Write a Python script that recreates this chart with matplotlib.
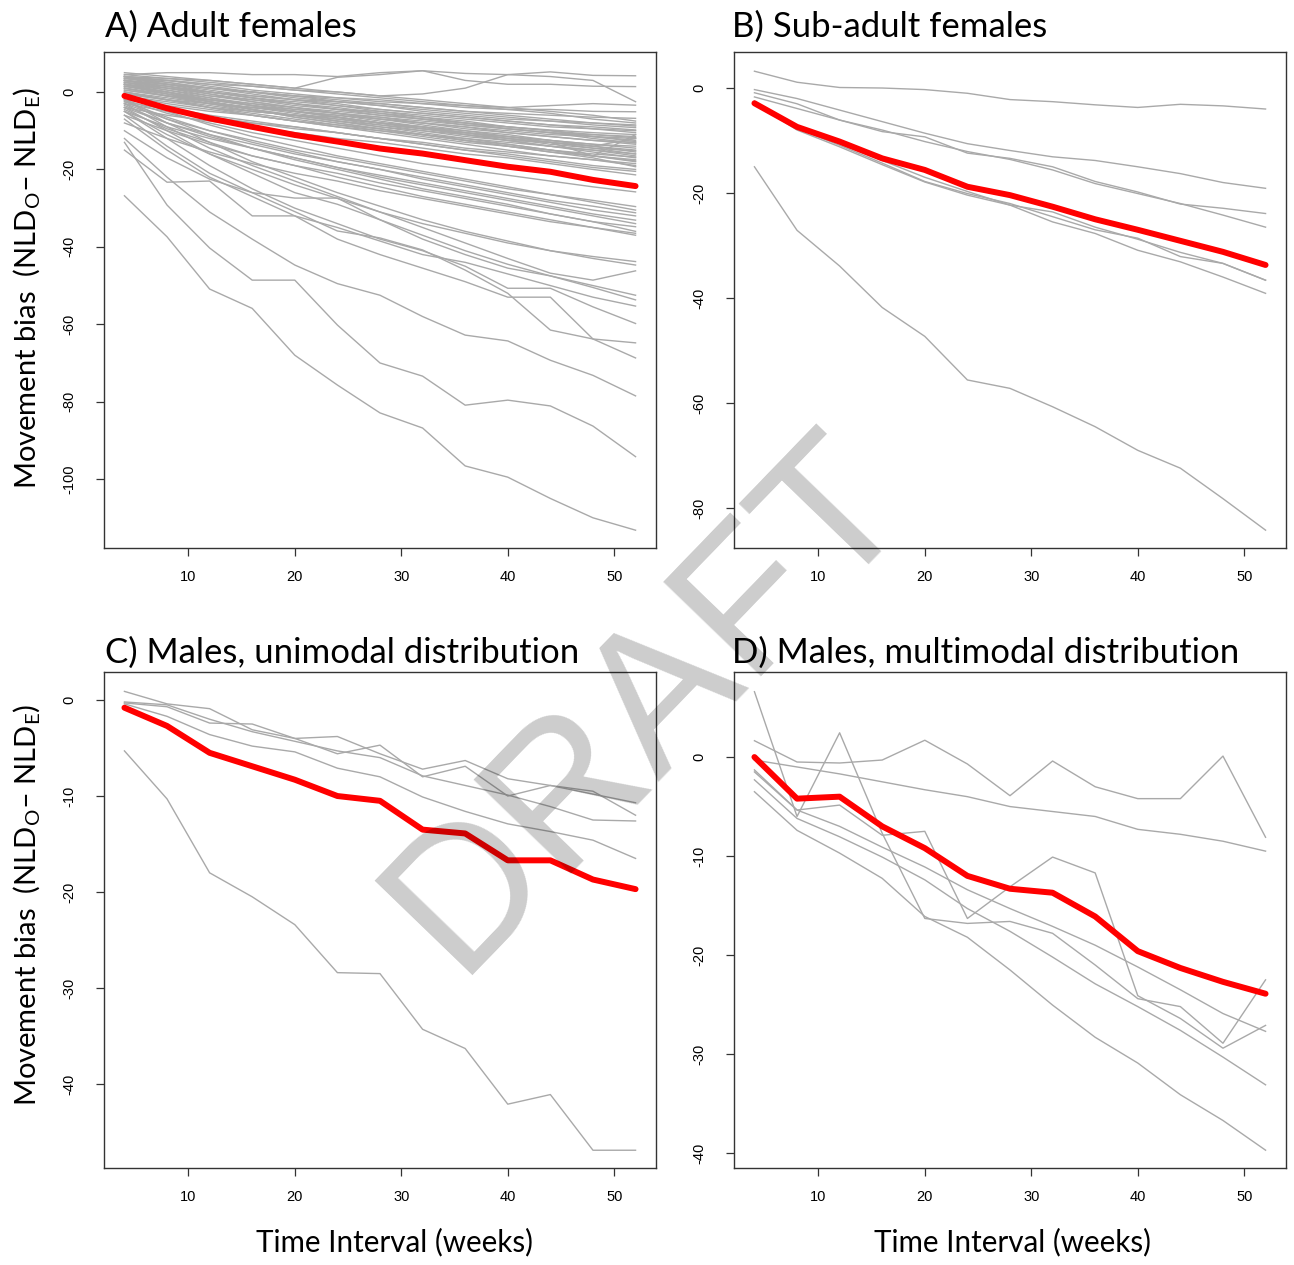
import matplotlib.pyplot as plt

plt.rcParams['font.family'] = ['Lato', 'DejaVu Sans']
plt.rcParams['mathtext.fontset'] = 'custom'
plt.rcParams['mathtext.rm'] = 'Lato'
plt.rcParams['axes.unicode_minus'] = False

weeks = [4, 8, 12, 16, 20, 24, 28, 32, 36, 40, 44, 48, 52]

# A) adult females: individual bias curves and the mean
adult_f_mean = [-1.0, -4.2, -6.8, -9.0, -11.1, -12.8, -14.6, -15.9, -17.6, -19.3, -20.6, -22.7, -24.3]
adult_f_top = [
    [4.5, 5.0, 5.0, 4.5, 4.5, 4.0, 5.0, 5.5, 4.8, 4.5, 5.2, 4.3, 4.2],
    [4.0, 3.5, 3.0, 2.0, 1.0, 3.8, 4.5, 5.5, 3.0, 2.0, 2.0, 1.5, 1.4],
    [3.5, 3.0, 2.0, 1.5, 0.5, 0.0, -1.0, -0.5, 1.0, 4.5, 4.0, 3.0, -2.5],
    [3.0, 2.0, 1.0, 0.0, -1.0, -1.5, -2.0, -3.0, -3.5, -4.0, -3.5, -3.0, -3.4],
    [4.0, 3.0, 2.0, 0.5, -0.5, -1.5, -2.5, -3.0, -4.0, -4.5, -4.5, -5.0, -5.1],
    [2.0, 1.0, 0.0, -1.0, -2.0, -2.5, -3.0, -4.0, -5.0, -5.5, -6.0, -6.5, -6.8],
]
adult_f_mid = [
    [3.0, 2.0, 1.0, 0.0, -1.0, -2.0, -3.0, -4.0, -5.0, -6.0, -7.0, -8.0, -8.5],
    [4.0, 3.0, 1.5, 0.0, -1.5, -2.5, -3.5, -4.5, -5.5, -6.5, -7.5, -8.5, -9.2],
    [2.0, 0.5, -1.0, -2.0, -3.0, -4.5, -5.0, -6.0, -7.0, -8.0, -9.0, -9.5, -10.0],
    [3.5, 2.0, 0.5, -1.0, -2.0, -3.0, -4.5, -5.5, -6.5, -7.5, -8.5, -9.5, -10.5],
    [1.0, -0.5, -2.0, -3.0, -4.0, -5.0, -6.0, -7.0, -8.0, -9.0, -9.8, -10.5, -11.0],
    [2.5, 1.0, -0.5, -2.0, -3.5, -4.5, -5.5, -6.5, -8.0, -9.0, -10.0, -11.0, -11.5],
    [0.0, -1.5, -3.0, -4.0, -5.0, -6.0, -7.0, -8.0, -9.0, -10.0, -11.0, -11.5, -12.0],
    [4.0, 2.5, 1.0, -0.5, -2.0, -3.5, -5.0, -6.5, -7.5, -9.0, -10.0, -11.5, -12.5],
    [1.5, 0.0, -1.5, -3.0, -4.5, -5.5, -7.0, -8.0, -9.0, -10.5, -11.5, -12.5, -13.0],
    [3.0, 1.0, -1.0, -2.5, -4.0, -5.5, -6.5, -8.0, -9.5, -10.5, -11.5, -12.5, -13.5],
    [-1.0, -2.5, -4.0, -5.0, -6.0, -7.0, -8.5, -9.5, -10.5, -11.5, -12.5, -13.5, -14.0],
    [2.0, 0.0, -2.0, -3.5, -5.0, -6.0, -7.5, -9.0, -10.0, -11.0, -12.5, -13.5, -14.5],
    [0.5, -1.0, -2.5, -4.0, -5.5, -7.0, -8.0, -9.5, -10.5, -12.0, -13.0, -14.0, -15.0],
    [3.0, 1.5, -0.5, -2.5, -4.0, -5.5, -7.0, -8.5, -10.0, -11.5, -12.5, -14.0, -15.5],
    [-2.0, -3.5, -5.0, -6.0, -7.5, -8.5, -9.5, -11.0, -12.0, -13.0, -14.0, -15.0, -16.0],
    [1.0, -1.0, -3.0, -4.5, -6.0, -7.5, -9.0, -10.0, -11.5, -12.5, -14.0, -15.0, -16.5],
    [2.5, 0.5, -1.5, -3.5, -5.0, -6.5, -8.0, -9.5, -11.0, -12.5, -14.0, -15.5, -17.0],
    [-0.5, -2.0, -4.0, -5.5, -7.0, -8.5, -10.0, -11.0, -12.5, -13.5, -15.0, -16.5, -17.5],
    [1.5, -0.5, -2.5, -4.5, -6.0, -7.5, -9.0, -10.5, -12.0, -13.5, -15.0, -16.5, -18.0],
    [-3.0, -5.0, -6.5, -8.0, -9.5, -10.5, -12.0, -13.0, -14.5, -15.5, -16.5, -17.5, -18.5],
    [0.0, -2.0, -4.0, -6.0, -7.5, -9.0, -10.5, -12.0, -13.5, -15.0, -16.5, -17.5, -19.0],
    [2.0, 0.0, -2.5, -4.5, -6.5, -8.0, -9.5, -11.0, -12.5, -14.0, -15.5, -17.0, -19.3],
    [-1.5, -4.0, -6.0, -7.5, -9.0, -10.5, -12.0, -13.5, -15.0, -16.5, -18.0, -19.5, -20.5],
    [-4.0, -6.0, -7.5, -9.0, -10.5, -12.0, -13.0, -14.5, -16.0, -17.0, -18.5, -20.0, -21.4],
    [3.5, 2.5, 1.0, 0.0, -1.0, -2.5, -3.5, -5.0, -6.0, -7.0, -7.5, -8.0, -8.8],
    [4.5, 3.5, 2.5, 1.5, 0.5, -0.5, -1.5, -2.5, -3.5, -4.5, -5.5, -7.0, -8.0],
    [1.0, -1.0, -3.0, -4.0, -5.0, -6.5, -8.0, -9.0, -10.5, -12.0, -13.0, -16.5, -11.0],
    [0.0, -2.0, -3.0, -5.0, -6.0, -6.5, -8.0, -9.0, -11.0, -12.5, -13.0, -14.0, -12.0],
    [5.0, 4.0, 3.0, 2.0, 1.0, 0.0, -1.0, -2.0, -3.0, -4.0, -5.0, -6.0, -7.5],
    [2.5, 1.5, 0.0, -1.5, -2.5, -3.5, -4.5, -5.5, -6.5, -7.5, -8.5, -9.0, -9.8],
    [0.5, -1.0, -2.0, -3.5, -4.5, -5.5, -6.5, -7.5, -8.5, -9.5, -10.5, -11.0, -11.8],
    [3.0, 1.5, 0.0, -1.5, -3.0, -4.0, -5.5, -7.0, -8.0, -9.5, -10.5, -12.0, -13.2],
    [-0.5, -2.0, -3.5, -5.0, -6.0, -7.5, -8.5, -10.0, -11.0, -12.0, -13.5, -14.5, -15.2],
    [1.5, 0.0, -2.0, -3.5, -5.0, -6.5, -8.0, -9.0, -10.5, -11.5, -13.0, -14.5, -16.0],
    [-1.0, -3.0, -4.5, -6.0, -7.5, -9.0, -10.0, -11.5, -13.0, -14.0, -15.5, -16.5, -17.8],
    [2.0, -0.5, -2.5, -4.5, -6.5, -8.0, -9.5, -11.0, -12.5, -14.0, -15.0, -16.0, -16.8],
    [4.0, 2.0, 0.0, -1.5, -3.0, -4.5, -6.0, -7.0, -8.5, -9.5, -10.5, -11.5, -12.8],
    [-2.5, -4.5, -6.5, -8.0, -9.0, -10.5, -12.0, -13.5, -15.0, -16.0, -17.5, -19.0, -20.0],
]
adult_f_low = [
    [-2.0, -5.5, -8.0, -10.5, -12.5, -14.5, -16.5, -18.5, -20.0, -21.5, -23.0, -24.5, -25.8],
    [-3.0, -7.0, -10.0, -12.5, -15.0, -17.0, -19.0, -21.0, -23.0, -25.0, -26.5, -28.0, -29.6],
    [-1.0, -5.0, -8.5, -11.5, -14.0, -16.5, -18.5, -20.5, -22.5, -24.5, -26.5, -28.5, -30.5],
    [-4.0, -8.0, -11.0, -13.5, -16.0, -18.0, -20.0, -22.0, -24.0, -26.0, -28.0, -29.5, -31.2],
    [-2.5, -6.5, -10.0, -13.0, -15.5, -18.0, -20.0, -22.5, -24.5, -26.5, -28.5, -30.5, -32.0],
    [-5.0, -9.0, -12.0, -14.5, -17.0, -19.5, -21.5, -23.5, -25.5, -27.5, -29.5, -31.5, -33.1],
    [-3.5, -8.0, -11.5, -14.5, -17.0, -19.5, -22.0, -24.0, -26.0, -28.0, -30.0, -32.0, -34.0],
    [-6.0, -10.0, -13.5, -16.5, -19.0, -21.0, -23.5, -25.5, -27.5, -29.5, -31.5, -33.5, -34.8],
    [-2.0, -7.0, -11.0, -14.5, -17.5, -20.0, -22.5, -25.0, -27.0, -29.0, -31.5, -33.5, -36.0],
    [-8.0, -12.0, -15.5, -18.5, -21.0, -23.0, -25.5, -27.5, -29.5, -31.5, -33.5, -35.0, -37.0],
    [-4.5, -9.5, -13.0, -16.5, -19.0, -22.0, -24.5, -27.0, -29.0, -31.0, -33.0, -35.0, -36.5],
    [-5.0, -11.0, -16.0, -20.0, -24.0, -27.5, -31.0, -34.0, -36.5, -39.0, -41.0, -42.5, -43.8],
    [-2.0, -8.0, -13.0, -18.0, -22.0, -26.0, -29.5, -33.0, -36.0, -38.5, -41.0, -43.0, -44.7],
    [-3.0, -9.0, -14.5, -19.0, -23.0, -27.0, -31.0, -35.0, -39.0, -43.0, -46.8, -48.6, -46.2],
    [-10.0, -17.0, -22.5, -26.0, -27.4, -27.4, -33.0, -38.0, -42.0, -45.5, -47.5, -50.0, -52.5],
    [-4.0, -10.0, -16.0, -21.0, -26.0, -29.0, -33.0, -37.0, -41.0, -44.5, -47.5, -50.5, -53.7],
    [-7.0, -15.0, -22.0, -27.0, -32.0, -35.0, -38.5, -42.0, -44.0, -47.0, -50.0, -53.0, -55.3],
    [-5.0, -12.0, -19.0, -25.0, -30.0, -34.0, -38.0, -41.0, -45.0, -50.7, -50.7, -55.5, -59.8],
    [-6.0, -14.0, -21.0, -26.0, -30.9, -35.9, -37.7, -40.8, -46.0, -52.0, -61.5, -63.8, -64.8],
    [-15.0, -23.3, -23.0, -32.0, -32.0, -38.0, -42.0, -45.5, -49.0, -53.0, -53.0, -63.8, -68.7],
    [-12.0, -22.0, -31.0, -38.0, -44.7, -49.5, -52.5, -58.0, -62.8, -64.3, -69.3, -73.2, -78.5],
    [-13.0, -29.2, -40.3, -48.6, -48.6, -60.2, -70.0, -73.4, -80.9, -79.6, -81.1, -86.3, -94.2],
    [-26.8, -37.4, -50.9, -55.9, -68.0, -75.7, -82.9, -86.8, -96.6, -99.5, -105.0, -110.0, -113.2],
]

# B) sub-adult females
subadult_f_mean = [-2.9, -7.4, -10.2, -13.4, -15.6, -18.8, -20.4, -22.6, -25.0, -27.0, -29.1, -31.2, -33.7]
subadult_f_ind = [
    [3.2, 1.1, 0.1, 0.0, -0.3, -1.0, -2.2, -2.6, -3.2, -3.7, -3.1, -3.4, -4.0],
    [-0.3, -2.0, -4.2, -6.4, -8.6, -10.6, -11.9, -13.1, -13.8, -15.0, -16.3, -18.0, -19.1],
    [-0.9, -3.0, -6.1, -8.3, -9.3, -12.4, -13.4, -15.0, -17.8, -19.8, -22.1, -22.9, -23.9],
    [-1.7, -3.9, -6.1, -8.0, -10.2, -12.1, -13.6, -15.6, -18.2, -20.1, -22.0, -24.2, -26.5],
    [-2.5, -7.7, -10.9, -14.3, -17.8, -20.1, -22.0, -24.5, -27.0, -28.6, -32.1, -33.4, -36.6],
    [-2.9, -8.0, -11.2, -14.6, -17.9, -20.4, -22.3, -25.5, -27.7, -30.9, -33.1, -36.0, -39.1],
    [-3.2, -7.7, -10.6, -13.8, -17.0, -19.7, -22.3, -23.6, -26.5, -28.8, -31.3, -33.4, -36.6],
    [-15.0, -27.1, -33.9, -41.8, -47.3, -55.6, -57.2, -60.7, -64.5, -69.0, -72.4, -78.2, -84.2],
]

# C) males, unimodal distribution
male_uni_mean = [-0.8, -2.7, -5.5, -6.9, -8.3, -10.0, -10.5, -13.5, -13.9, -16.7, -16.7, -18.7, -19.7]
male_uni_ind = [
    [0.9, -0.4, -0.9, -3.1, -4.0, -3.8, -5.6, -7.2, -6.3, -8.2, -8.9, -9.8, -10.7],
    [-0.3, -0.7, -2.4, -2.5, -4.0, -5.6, -4.7, -8.0, -6.9, -10.0, -8.9, -9.5, -12.0],
    [-0.2, -0.5, -2.0, -3.3, -4.3, -5.3, -6.0, -7.9, -8.9, -9.9, -11.1, -12.5, -12.6],
    [-0.4, -1.7, -3.6, -4.8, -5.4, -7.1, -8.0, -10.1, -11.6, -12.9, -13.7, -14.6, -16.5],
    [-5.3, -10.3, -18.0, -20.5, -23.4, -28.4, -28.5, -34.3, -36.3, -42.1, -41.1, -46.9, -46.9],
]

# D) males, multimodal distribution
male_multi_mean = [0.0, -4.2, -4.0, -7.0, -9.2, -12.0, -13.3, -13.7, -16.1, -19.6, -21.3, -22.7, -23.9]
male_multi_ind = [
    [1.65, -0.5, -0.6, -0.3, 1.7, -0.7, -3.9, -0.4, -3.0, -4.2, -4.2, 0.1, -8.1],
    [-0.3, -1.0, -1.7, -2.5, -3.3, -4.0, -5.0, -5.5, -6.0, -7.3, -7.8, -8.5, -9.5],
    [6.6, -6.0, 2.45, -7.7, -16.3, -16.8, -16.6, -17.8, -21.0, -24.4, -25.2, -28.9, -22.5],
    [-1.3, -5.35, -4.85, -7.9, -7.5, -16.3, -13.1, -10.1, -11.7, -24.1, -26.4, -29.4, -27.1],
    [-1.5, -5.35, -7.0, -9.1, -11.1, -13.4, -15.3, -17.1, -19.0, -21.2, -23.5, -25.9, -27.7],
    [-2.3, -6.2, -8.05, -10.1, -12.4, -15.3, -17.6, -20.2, -22.9, -25.2, -27.6, -30.3, -33.1],
    [-3.5, -7.4, -9.7, -12.25, -16.1, -18.2, -21.5, -25.05, -28.3, -30.9, -34.1, -36.7, -39.7],
]

W, H = 1294, 1265
fig = plt.figure(figsize=(W / 100, H / 100), dpi=100)


def px_axes(left, top, right, bottom):
    return fig.add_axes([left / W, 1 - bottom / H, (right - left) / W, (bottom - top) / H])


def draw_panel(ax, individuals, mean, yticks, ylim):
    for y in individuals:
        ax.plot(weeks, y, color='#a9a9a9', lw=1.0)
    ax.plot(weeks, mean, color='red', lw=4.3, solid_capstyle='round')
    ax.set_xlim(2.08, 53.92)
    ax.set_ylim(*ylim)
    ax.set_xticks([10, 20, 30, 40, 50])
    ax.set_yticks(yticks)
    ax.tick_params(direction='out', length=6, width=0.9, color='#333333',
                   labelsize=10.5, labelfontfamily='Liberation Sans')
    ax.tick_params(axis='x', pad=10)
    ax.tick_params(axis='y', pad=14, labelrotation=90)
    for t in ax.get_yticklabels():
        t.set_va('center')
    for s in ax.spines.values():
        s.set_color('#333333')
        s.set_linewidth(1.0)


ax_a = px_axes(104, 52, 656, 548)
draw_panel(ax_a, adult_f_top + adult_f_mid + adult_f_low, adult_f_mean,
           [0, -20, -40, -60, -80, -100], (-117.8, 10.34))
ax_b = px_axes(734, 52, 1286, 548)
draw_panel(ax_b, subadult_f_ind, subadult_f_mean,
           [0, -20, -40, -60, -80], (-87.6, 6.86))
ax_c = px_axes(104, 672, 656, 1168)
draw_panel(ax_c, male_uni_ind, male_uni_mean,
           [0, -10, -20, -30, -40], (-48.75, 2.92))
ax_d = px_axes(734, 672, 1286, 1168)
draw_panel(ax_d, male_multi_ind, male_multi_mean,
           [0, -10, -20, -30, -40], (-41.5, 8.59))

titles = [(105, 37, 'A) Adult females'), (732, 37, 'B) Sub-adult females'),
          (105, 663, 'C) Males, unimodal distribution'),
          (732, 663, 'D) Males, multimodal distribution')]
for x, y, s in titles:
    fig.text(x / W, 1 - y / H, s, fontsize=25, va='baseline', ha='left')

ylab = 'Movement bias  (NLD$_\\mathregular{O}$\u2013 NLD$_\\mathregular{E}$)'
for yc in (288, 905):
    fig.text(27 / W, 1 - yc / H, ylab, fontsize=21, rotation=90, ha='center', va='center')
for xc in (395, 1013):
    fig.text(xc / W, 1 - 1242 / H, 'Time Interval (weeks)', fontsize=21.3, ha='center', va='center')

fig.text(648 / W, 1 - 703 / H, 'DRAFT', fontsize=142, rotation=46,
         family='Liberation Sans', color='black', alpha=0.2,
         ha='center', va='center', zorder=10)

fig.savefig('out.png', dpi=100)
